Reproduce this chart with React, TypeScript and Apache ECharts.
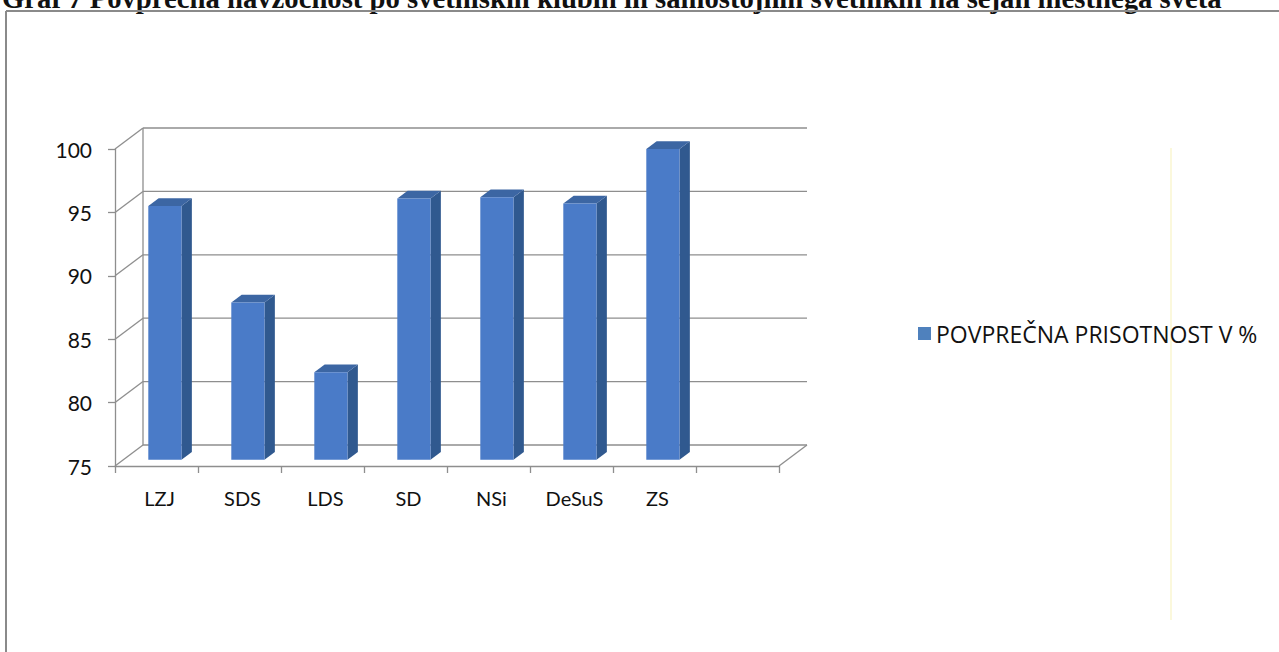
import React, { useEffect, useRef } from "react";
import * as echarts from "echarts";

const titleText =
  "Graf 7 Povprečna navzočnost po svetniških klubih in samostojnih svetnikih na sejah mestnega sveta";
const categories = ["LZJ", "SDS", "LDS", "SD", "NSi", "DeSuS", "ZS", ""];
const seriesName = "POVPREČNA PRISOTNOST V %";
const values = [95.0, 87.4, 81.9, 95.6, 95.7, 95.2, 99.5];
const yTicks = [75, 80, 85, 90, 95, 100];
const Y_MIN = 75;
const Y_MAX = 100;
const Y_STEP = 5;

const DX = 28;
const DY = -21;
const F0 = 0.3;
const F1 = 0.67;
const GRID_COLOR = "#8e8e8e";

export default function App() {
  const ref = useRef<HTMLDivElement>(null);

  useEffect(() => {
    if (!ref.current) return;
    const chart = echarts.init(ref.current, null, { renderer: "svg" });
    const n = categories.length;

    const wallItem = (params: any, api: any) => {
      const v = api.value(1);
      const band = api.size([1, 0])[0];
      const p0 = api.coord([0, v]);
      const pN = api.coord([n - 1, v]);
      const L = p0[0] - band / 2;
      const R = pN[0] + band / 2;
      const y = p0[1];
      const ls = { stroke: GRID_COLOR, lineWidth: 1.3 };
      const children: any[] = [
        { type: "line", shape: { x1: L, y1: y, x2: L + DX, y2: y + DY }, style: ls },
        { type: "line", shape: { x1: L + DX, y1: y + DY, x2: R + DX, y2: y + DY }, style: ls },
      ];
      if (params.dataIndex === 0) {
        const yTop = api.coord([0, Y_MAX])[1];
        children.push({
          type: "line",
          shape: { x1: L + DX, y1: y + DY, x2: L + DX, y2: yTop + DY },
          style: ls,
        });
        children.push({
          type: "line",
          shape: { x1: R, y1: y, x2: R + DX, y2: y + DY },
          style: ls,
        });
      }
      return { type: "group", children };
    };

    const barItem = (params: any, api: any) => {
      const idx = api.value(0);
      const v = api.value(1);
      const band = api.size([1, 0])[0];
      const w = band * 0.4;
      const base = api.coord([idx, Y_MIN]);
      const top = api.coord([idx, v]);
      const x0 = base[0] - w / 2 + F0 * DX;
      const x1 = x0 + w;
      const yT = top[1] + F0 * DY;
      const yB = base[1] + F0 * DY;
      const ddx = (F1 - F0) * DX;
      const ddy = (F1 - F0) * DY;
      return {
        type: "group",
        children: [
          {
            type: "polygon",
            shape: { points: [[x1, yT], [x1 + ddx, yT + ddy], [x1 + ddx, yB + ddy], [x1, yB]] },
            style: { fill: "#30598f" },
          },
          {
            type: "polygon",
            shape: { points: [[x0, yT], [x1, yT], [x1 + ddx, yT + ddy], [x0 + ddx, yT + ddy]] },
            style: { fill: "#3c66a3" },
          },
          {
            type: "rect",
            shape: { x: x0, y: yT, width: w, height: yB - yT },
            style: { fill: "#4a7bc8" },
          },
        ],
      };
    };

    chart.setOption({
      animation: false,
      backgroundColor: "#ffffff",
      grid: { left: 115, right: 500, top: 149, bottom: 186, containLabel: false },
      xAxis: {
        type: "category",
        data: categories,
        axisLine: { show: true, lineStyle: { color: GRID_COLOR, width: 1.3 } },
        axisTick: { show: true, length: 7, alignWithLabel: false, lineStyle: { color: GRID_COLOR, width: 1.3 } },
        axisLabel: { margin: 22, fontSize: 20, fontFamily: "Lato", color: "#111", padding: [0, 0, 0, 6] },
        splitLine: { show: false },
      },
      yAxis: {
        type: "value",
        min: Y_MIN,
        max: Y_MAX,
        interval: Y_STEP,
        axisLine: { show: true, lineStyle: { color: GRID_COLOR, width: 1.3 } },
        axisTick: { show: true, length: 7, lineStyle: { color: GRID_COLOR, width: 1.3 } },
        axisLabel: { margin: 23, fontSize: 21, fontFamily: "Lato", color: "#111" },
        splitLine: { show: false },
      },
      legend: {
        data: [{ name: seriesName, icon: "rect" }],
        left: 913,
        top: 317,
        itemWidth: 13,
        itemHeight: 13,
        itemGap: 9,
        textStyle: { fontSize: 23, fontFamily: "Open Sans", color: "#111" },
        selectedMode: false,
      },
      graphic: [
        {
          type: "text",
          left: 2,
          top: -17,
          style: { text: titleText, font: 'bold 28.7px "Liberation Serif"', fill: "#111" },
        },
        {
          type: "line",
          shape: { x1: 6, y1: 11, x2: 1279, y2: 11 },
          style: { stroke: "#8a8a8a", lineWidth: 2 },
        },
        {
          type: "line",
          shape: { x1: 6, y1: 11, x2: 6, y2: 652 },
          style: { stroke: "#8a8a8a", lineWidth: 2 },
        },
        {
          type: "line",
          shape: { x1: 1171, y1: 148, x2: 1171, y2: 620 },
          style: { stroke: "#fbf8dc", lineWidth: 2 },
        },
      ],
      series: [
        {
          type: "custom",
          name: "walls",
          clip: false,
          z: 1,
          renderItem: wallItem,
          encode: { x: 0, y: 1 },
          data: yTicks.map((v) => [0, v]),
          silent: true,
        },
        {
          type: "custom",
          name: seriesName,
          clip: false,
          z: 2,
          itemStyle: { color: "#4f81bd" },
          renderItem: barItem,
          encode: { x: 0, y: 1 },
          data: values.map((v, i) => [i, v]),
        },
      ],
    });

    return () => chart.dispose();
  }, []);

  return (
    <div
      ref={ref}
      style={{ position: "fixed", left: 0, top: 0, width: 1279, height: 652, background: "#fff" }}
    />
  );
}
